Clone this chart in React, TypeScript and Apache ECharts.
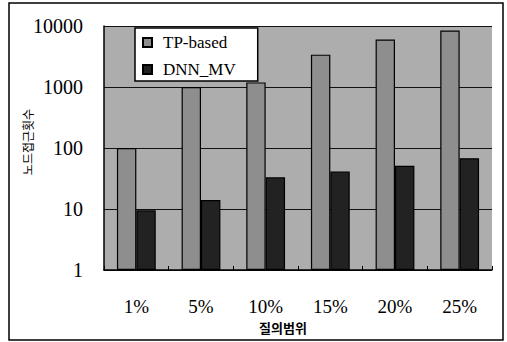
import React, { useEffect, useRef } from "react";
import * as echarts from "echarts";

const categories = ["1%", "5%", "10%", "15%", "20%", "25%"];
const tpBased = [100, 1000, 1190, 3390, 5980, 8400];
const dnnMv = [9.5, 14, 33, 41, 51, 68];
const seriesNames = ["TP-based", "DNN_MV"];
const xAxisTitle = "질의범위";
const yAxisTitle = "노드접근횟수";

const SERIF = "'Liberation Serif', 'Times New Roman', serif";
const KR = "'Noto Sans CJK KR', sans-serif";

export default function App() {
  const ref = useRef<HTMLDivElement>(null);
  useEffect(() => {
    document.body.style.margin = "0";
    if (!ref.current) return;
    const chart = echarts.init(ref.current, null, { renderer: "svg" });
    chart.setOption({
      animation: false,
      backgroundColor: "#ffffff",
      grid: {
        left: 104,
        right: 15,
        top: 26,
        bottom: 72,
        show: true,
        backgroundColor: "#adadad",
        borderWidth: 0,
      },
      legend: {
        orient: "vertical",
        left: 135,
        top: 28,
        backgroundColor: "#ffffff",
        borderColor: "#000000",
        borderWidth: 1.5,
        padding: [6, 22, 3, 7],
        itemGap: 10,
        itemWidth: 9,
        itemHeight: 9,
        icon: "rect",
        data: seriesNames,
        textStyle: {
          fontFamily: SERIF,
          fontSize: 17,
          color: "#000",
          padding: [0, 0, 0, 6],
        },
      },
      xAxis: {
        type: "category",
        data: categories,
        axisLine: { show: true, lineStyle: { color: "#000", width: 1.5 } },
        axisTick: { show: true, inside: true, length: 4, lineStyle: { color: "#000" } },
        axisLabel: {
          fontFamily: SERIF,
          fontSize: 19,
          color: "#000",
          margin: 27,
        },
      },
      yAxis: {
        type: "log",
        logBase: 10,
        min: 1,
        max: 10000,
        splitNumber: 4,
        axisLine: { show: true, lineStyle: { color: "#000", width: 1.5 } },
        axisTick: { show: false },
        splitLine: { show: true, lineStyle: { color: "#111", width: 1.2 } },
        axisLabel: {
          fontFamily: SERIF,
          fontSize: 20,
          color: "#000",
          margin: 21,
          formatter: (v: number) => String(Math.round(v)),
        },
      },
      series: [
        {
          name: seriesNames[0],
          type: "bar",
          data: tpBased,
          barGap: "0%",
          barCategoryGap: "40%",
          itemStyle: { color: "#8e8e8e", borderColor: "#000", borderWidth: 1.2 },
        },
        {
          name: seriesNames[1],
          type: "bar",
          data: dnnMv,
          itemStyle: { color: "#222222", borderColor: "#000", borderWidth: 1.2 },
        },
      ],
      graphic: [
        {
          type: "rect",
          shape: { x: 9, y: 3, width: 494, height: 337 },
          style: { fill: "none", stroke: "#000", lineWidth: 1.5 },
          silent: true,
        },
        {
          type: "text",
          x: 283,
          y: 327,
          style: {
            text: xAxisTitle,
            font: `bold 13px ${KR}`,
            fill: "#000",
            align: "center",
            verticalAlign: "middle",
          },
        },
        {
          type: "text",
          x: 27,
          y: 142,
          rotation: Math.PI / 2,
          style: {
            text: yAxisTitle,
            font: `12px ${KR}`,
            fill: "#000",
            align: "center",
            verticalAlign: "middle",
          },
        },
      ],
    });
    return () => chart.dispose();
  }, []);
  return <div ref={ref} style={{ width: 507, height: 342 }} />;
}
